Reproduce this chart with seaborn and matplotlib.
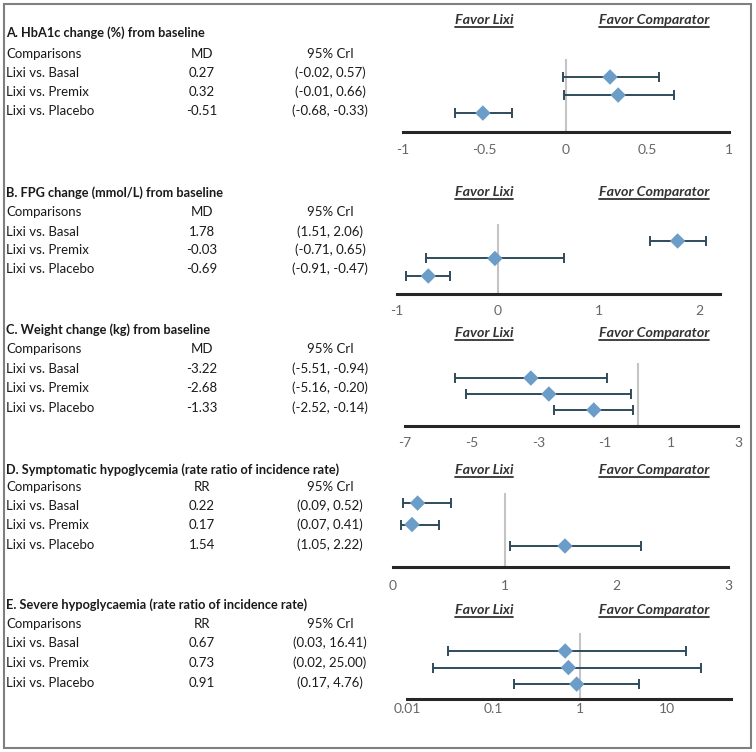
import numpy as np
import pandas as pd
import matplotlib
matplotlib.use("Agg")
import matplotlib.pyplot as plt
from matplotlib.lines import Line2D
from matplotlib.patches import Rectangle
import seaborn as sns

# data
comparisons = ['Lixi vs. Basal', 'Lixi vs. Premix', 'Lixi vs. Placebo']

titles = ['A. HbA1c change (%) from baseline',
          'B. FPG change (mmol/L) from baseline',
          'C. Weight change (kg) from baseline',
          'D. Symptomatic hypoglycemia (rate ratio of incidence rate)',
          'E. Severe hypoglycaemia (rate ratio of incidence rate)']
measures = ['MD', 'MD', 'MD', 'RR', 'RR']

hba1c_est = [0.27, 0.32, -0.51]
hba1c_lo = [-0.02, -0.01, -0.68]
hba1c_hi = [0.57, 0.66, -0.33]

fpg_est = [1.78, -0.03, -0.69]
fpg_lo = [1.51, -0.71, -0.91]
fpg_hi = [2.06, 0.65, -0.47]

weight_est = [-3.22, -2.68, -1.33]
weight_lo = [-5.51, -5.16, -2.52]
weight_hi = [-0.94, -0.20, -0.14]

symp_est = [0.22, 0.17, 1.54]
symp_lo = [0.09, 0.07, 1.05]
symp_hi = [0.52, 0.41, 2.22]

severe_est = [0.67, 0.73, 0.91]
severe_lo = [0.03, 0.02, 0.17]
severe_hi = [16.41, 25.00, 4.76]

ref_values = [0, 0, 0, 1, 1]
tick_values = [[-1, -0.5, 0, 0.5, 1], [-1, 0, 1, 2], [-7, -5, -3, -1, 1, 3],
               [0, 1, 2, 3], [0.01, 0.1, 1, 10]]
tick_labels = [['-1', '-0.5', '0', '0.5', '1'], ['-1', '0', '1', '2'],
               ['-7', '-5', '-3', '-1', '1', '3'], ['0', '1', '2', '3'],
               ['0.01', '0.1', '1', '10']]
x_limits = [(-1, 1), (-1, 2.2), (-7, 3), (0, 3), (0.01, 55)]

panels = [
    (hba1c_est, hba1c_lo, hba1c_hi),
    (fpg_est, fpg_lo, fpg_hi),
    (weight_est, weight_lo, weight_hi),
    (symp_est, symp_lo, symp_hi),
    (severe_est, severe_lo, severe_hi),
]

# layout in pixels: axes box (x0, x1, top, bottom), ylim, title y, row ys, favor y, tick pad
layout = [
    dict(box=(403, 729, 59, 132), ylim=(3.05, -1.0), title=33, rows=[54, 73, 92, 111], favor=20, pad=9),
    dict(box=(397, 720, 224, 294), ylim=(3.03, -0.97), title=193, rows=[212, 232, 250, 269], favor=192, pad=8),
    dict(box=(405, 738, 363, 426), ylim=(3.0, -0.94), title=330, rows=[349, 369, 388, 408], favor=333, pad=8),
    dict(box=(393, 728, 493, 567), ylim=(2.98, -0.47), title=470, rows=[487, 506, 525, 545], favor=470, pad=9),
    dict(box=(407, 731, 633, 699), ylim=(2.9, -1.09), title=605, rows=[624, 643, 663, 683], favor=610, pad=3),
]

sns.set_theme(style='white')
plt.rcParams['font.family'] = ['Lato', 'DejaVu Sans']

W, H = 756, 752
fig = plt.figure(figsize=(7.56, 7.52), dpi=100)

marker_color = '#6b9dc8'
bar_color = '#2e4b5c'
text_color = '#1a1a1a'
fs = 9.5

fig.add_artist(Rectangle((4 / W, 1 - 748 / H), 747 / W, 744 / H, transform=fig.transFigure,
                         fill=False, edgecolor='#7f7f7f', linewidth=1.5))

favor_texts = []
for i, (est, lo, hi) in enumerate(panels):
    lay = layout[i]
    x0, x1, top, bot = lay['box']
    ax = fig.add_axes([x0 / W, 1 - bot / H, (x1 - x0) / W, (bot - top) / H])
    df = pd.DataFrame({'comparison': comparisons, 'est': est, 'lo': lo, 'hi': hi,
                       'row': np.arange(len(comparisons))})

    ax.axvline(ref_values[i], color='#c4c4c4', linewidth=1.5, zorder=1)
    ax.errorbar(df['est'], df['row'],
                xerr=[df['est'] - df['lo'], df['hi'] - df['est']],
                fmt='none', ecolor=bar_color, elinewidth=1.4, capsize=3.5, capthick=1.4, zorder=2)
    sns.scatterplot(data=df, x='est', y='row', marker='D', s=62, color=marker_color,
                    edgecolor='none', ax=ax, zorder=3, legend=False)

    if i == 4:
        ax.set_xscale('log')
    ax.set_xlim(*x_limits[i])
    ax.set_ylim(*lay['ylim'])
    ax.set_xticks(tick_values[i])
    ax.set_xticklabels(tick_labels[i])
    ax.set_yticks([])
    ax.minorticks_off()
    ax.tick_params(axis='x', length=0, pad=lay['pad'], labelsize=10, labelcolor='#666666')
    ax.set_xlabel('')
    ax.set_ylabel('')
    for side in ['top', 'left', 'right']:
        ax.spines[side].set_visible(False)
    ax.spines['bottom'].set_color('#262626')
    ax.spines['bottom'].set_linewidth(2.2)
    ax.patch.set_alpha(0)

    # left table
    fig.text(6 / W, 1 - lay['title'] / H, titles[i], fontsize=9.2, fontweight='bold',
             color=text_color, va='center', ha='left')
    r = lay['rows']
    fig.text(6 / W, 1 - r[0] / H, 'Comparisons', fontsize=fs, color=text_color, va='center')
    fig.text(202 / W, 1 - r[0] / H, measures[i], fontsize=fs, color=text_color, va='center', ha='center')
    fig.text(330 / W, 1 - r[0] / H, '95% CrI', fontsize=fs, color=text_color, va='center', ha='center')
    for j, name in enumerate(comparisons):
        y = 1 - r[j + 1] / H
        fig.text(6 / W, y, name, fontsize=fs, color=text_color, va='center')
        fig.text(202 / W, y, f'{est[j]:.2f}', fontsize=fs, color=text_color, va='center', ha='center')
        fig.text(330 / W, y, f'({lo[j]:.2f}, {hi[j]:.2f})', fontsize=fs, color=text_color,
                 va='center', ha='center')

    for label, xc in [('Favor Lixi', 484), ('Favor Comparator', 654)]:
        t = fig.text(xc / W, 1 - lay['favor'] / H, label, fontsize=10.3, fontweight='bold',
                     fontstyle='italic', color='#333333', va='center', ha='center')
        favor_texts.append(t)

# underline the favor labels
fig.canvas.draw()
inv = fig.transFigure.inverted()
for t in favor_texts:
    bb = t.get_window_extent().transformed(inv)
    yline = bb.y0 - 1.0 / H
    fig.add_artist(Line2D([bb.x0, bb.x1], [yline, yline], transform=fig.transFigure,
                          color='#333333', linewidth=1.3))

fig.savefig('out.png', dpi=100)
